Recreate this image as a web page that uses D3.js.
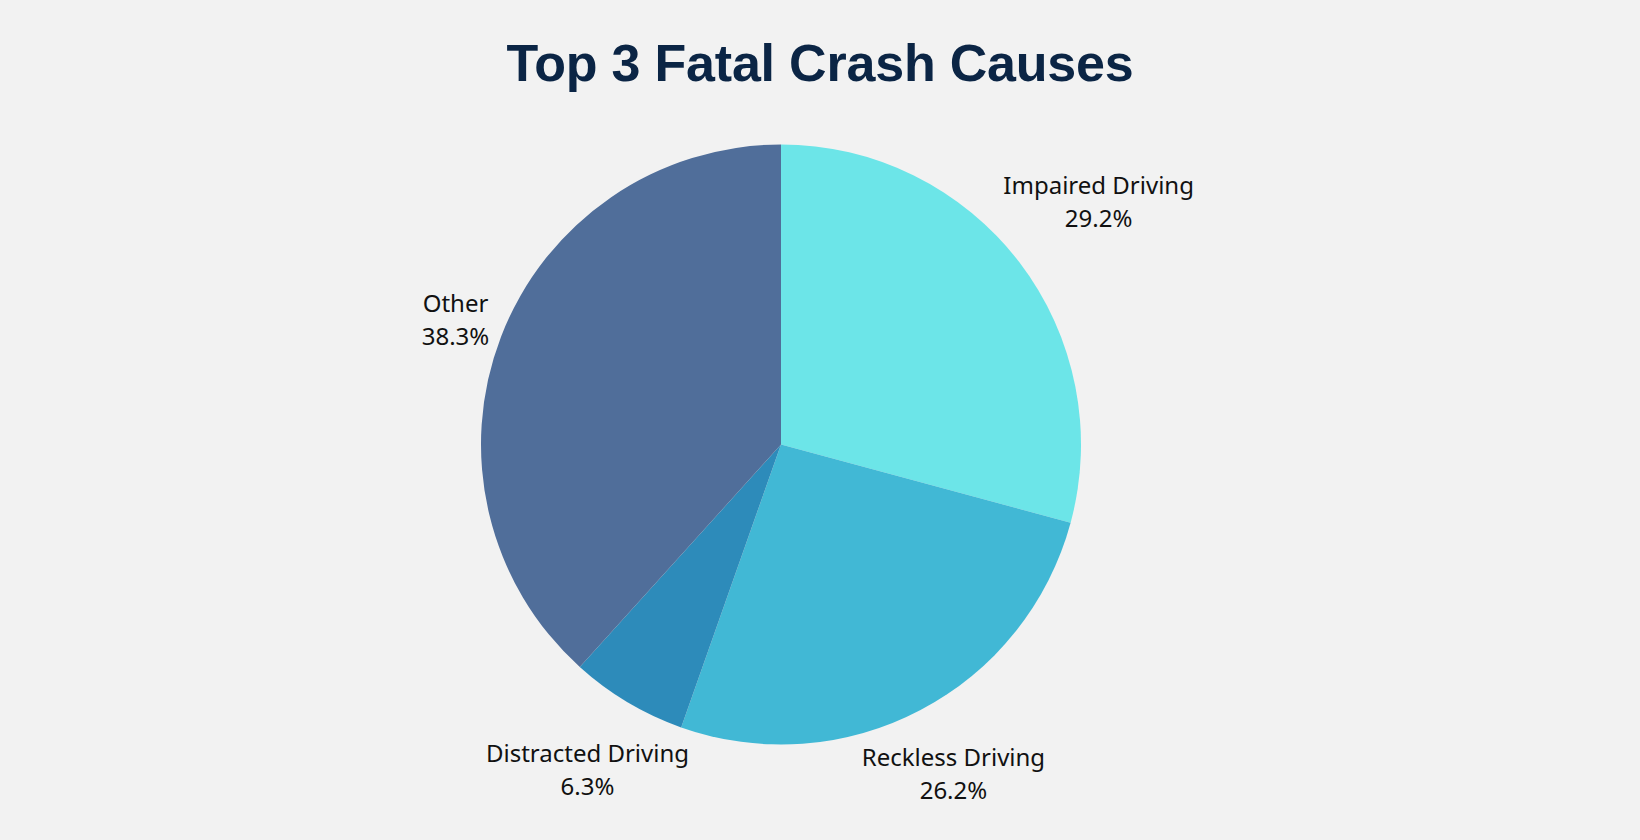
<!DOCTYPE html>
<html><head><meta charset="utf-8">
<script src="https://cdn.jsdelivr.net/npm/d3@7"></script>
<style>html,body{margin:0;padding:0;background:#f2f2f2;}</style>
</head><body>
<svg id="chart" width="1640" height="840"></svg>
<script>
const categories = ["Impaired Driving", "Reckless Driving", "Distracted Driving", "Other"];
const values = [29.2, 26.2, 6.3, 38.3];
const colors = ["#6ce5e8", "#41b8d5", "#2d8bba", "#506e9a"];
const title = "Top 3 Fatal Crash Causes";

const W = 1640, H = 840;
const cx = 781, cy = 444.5, R = 300;
const svg = d3.select("#chart");
svg.append("rect").attr("width", W).attr("height", H).attr("fill", "#f2f2f2");

svg.append("text").attr("x", W/2).attr("y", 81).attr("text-anchor", "middle")
  .attr("font-family", "Liberation Sans, Arial, sans-serif").attr("font-weight", 700)
  .attr("font-size", 52).attr("fill", "#0b2545").attr("letter-spacing", "-0.2")
  .text(title);

const data = categories.map((c, i) => ({name: c, value: values[i], color: colors[i]}));
const pie = d3.pie().value(d => d.value).sort(null);
const arcs = pie(data);
const arc = d3.arc().innerRadius(0).outerRadius(R);
const g = svg.append("g").attr("transform", `translate(${cx},${cy})`);
g.selectAll("path").data(arcs).join("path").attr("d", arc).attr("fill", d => d.data.color);

const clearR = 306, lh = 33;
function nearest(px, py, hw, hh) {
  const nx = Math.max(px - hw, Math.min(0, px + hw));
  const ny = Math.max(py - hh, Math.min(0, py + hh));
  return Math.hypot(nx, ny);
}
arcs.forEach(a => {
  const mid = (a.startAngle + a.endAngle) / 2;
  const t = g.append("text").attr("text-anchor", "middle")
    .attr("font-family", "Noto Sans, sans-serif").attr("font-size", 24).attr("fill", "#111");
  t.append("tspan").attr("x", 0).attr("dy", 0).text(a.data.name);
  t.append("tspan").attr("x", 0).attr("dy", lh).text(a.data.value.toFixed(1) + "%");
  const bb = t.node().getBBox();
  const s = Math.sin(mid), c = -Math.cos(mid);
  const hw = bb.width / 2, hh = bb.height / 2;
  let lo = 0, hi = 1000;
  for (let k = 0; k < 60; k++) {
    const m = (lo + hi) / 2;
    if (nearest(s * m, c * m, hw, hh) < clearR) lo = m; else hi = m;
  }
  const d = (lo + hi) / 2;
  const px = s * d, py = c * d;
  const bcx = bb.x + bb.width / 2, bcy = bb.y + bb.height / 2;
  t.attr("transform", `translate(${px - bcx},${py - bcy})`);
});
</script>
</body></html>
